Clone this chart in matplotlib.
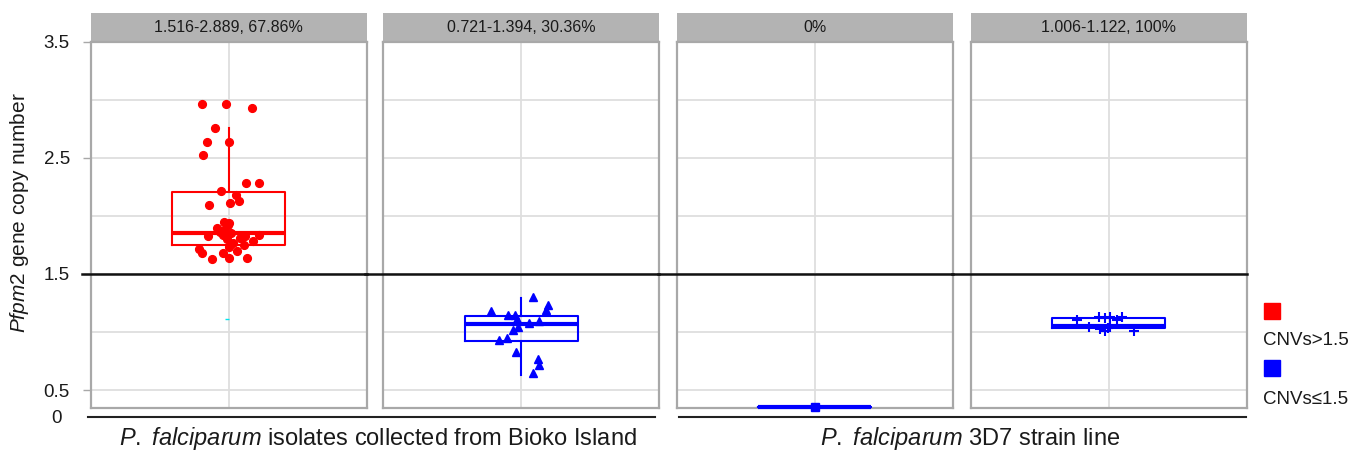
import matplotlib
matplotlib.use("Agg")
import matplotlib.pyplot as plt
from matplotlib.lines import Line2D
from matplotlib.patches import Rectangle

plt.rcParams["font.family"] = ["Liberation Sans", "DejaVu Sans"]
plt.rcParams["mathtext.fontset"] = "custom"
plt.rcParams["mathtext.rm"] = "Liberation Sans"
plt.rcParams["mathtext.it"] = "Liberation Sans:italic"

# ---------------------------------------------------------------------------
# Data
# ---------------------------------------------------------------------------
STRIP_LABELS = ["1.516-2.889, 67.86%", "0.721-1.394, 30.36%", "0%", "1.006-1.122, 100%"]
GROUP_LABELS = [r"$\it{P.}$ $\it{falciparum}$ isolates collected from Bioko Island",
                r"$\it{P.}$ $\it{falciparum}$ 3D7 strain line"]
LEGEND_LABELS = ["CNVs>1.5", "CNVs\u22641.5"]
THRESHOLD = 1.5
Y_TICKS = [0.5, 1.5, 2.5, 3.5]
Y_GRID = [0.5, 1.0, 1.5, 2.0, 2.5, 3.0]
Y_LIM = (0.345, 3.5)

# box statistics per panel
BOX_LO = [1.752, 0.628, 0.357, 1.006]
BOX_Q1 = [1.752, 0.926, 0.357, 1.032]
BOX_MED = [1.855, 1.069, 0.357, 1.050]
BOX_Q3 = [2.206, 1.135, 0.357, 1.119]
BOX_HI = [2.758, 1.289, 0.357, 1.122]

# jittered points per panel (x offset, value)
P1_X = [-0.115, -0.012, 0.100, -0.060, -0.096, 0.001, -0.110, 0.077, 0.133, -0.032,
        0.033, -0.086, 0.006, 0.046, -0.019, 0.001, -0.050, -0.019, -0.090, 0.071,
        0.133, -0.023, -0.009, 0.107, 0.065, -0.128, -0.117, 0.000, -0.023, 0.037,
        -0.071, 0.000, 0.078, 0.010, -0.005, 0.020, -0.040, 0.050]
P1_Y = [2.965, 2.962, 2.925, 2.758, 2.637, 2.634, 2.522, 2.284, 2.284, 2.212,
        2.183, 2.097, 2.114, 2.128, 1.947, 1.938, 1.893, 1.875, 1.824, 1.824,
        1.835, 1.832, 1.801, 1.780, 1.746, 1.717, 1.680, 1.731, 1.680, 1.694,
        1.628, 1.634, 1.637, 1.850, 1.920, 1.770, 1.860, 1.810]

P2_X = [0.052, 0.115, 0.106, -0.132, -0.057, -0.027, -0.020, 0.076, 0.033, -0.016,
        -0.037, -0.064, -0.098, -0.024, 0.071, 0.078, 0.052]
P2_Y = [1.300, 1.234, 1.185, 1.179, 1.142, 1.142, 1.113, 1.093, 1.079, 1.041,
        1.013, 0.946, 0.932, 0.826, 0.768, 0.716, 0.644]

P3_X = [0.0]
P3_Y = [0.357]

P4_X = [-0.137, -0.043, -0.014, 0.007, 0.058, 0.036, -0.087, -0.036, -0.014, 0.007,
        0.109, -0.005]
P4_Y = [1.107, 1.127, 1.122, 1.127, 1.132, 1.107, 1.041, 1.027, 1.006, 1.041,
        1.012, 1.030]

MISSING_X = [-0.009]
MISSING_Y = [1.112]

RED = "#ff0000"
BLUE = "#0000ff"
PANEL_COLORS = [RED, BLUE, BLUE, BLUE]
PANEL_MARKERS = ["o", "^", "s", "+"]
PANEL_POINTS = [(P1_X, P1_Y), (P2_X, P2_Y), (P3_X, P3_Y), (P4_X, P4_Y)]

# ---------------------------------------------------------------------------
# Figure
# ---------------------------------------------------------------------------
W, H = 1349, 453
fig = plt.figure(figsize=(W / 100, H / 100), dpi=100)

panel_left = [90.7, 383.3, 676.7, 970.7]
panel_w = 276
panel_top, panel_bot = 41.7, 408

axes = []
for i in range(4):
    ax = fig.add_axes([panel_left[i] / W, 1 - panel_bot / H,
                       panel_w / W, (panel_bot - panel_top) / H])
    axes.append(ax)
    for y in Y_GRID:
        ax.axhline(y, color="#dedede", lw=1.3, zorder=0)
    ax.axvline(0, color="#dedede", lw=1.3, zorder=0)
    for sp in ax.spines.values():
        sp.set_color("#a8a8a8")
        sp.set_linewidth(1.6)

    c = PANEL_COLORS[i]
    stats = [dict(whislo=BOX_LO[i], q1=BOX_Q1[i], med=BOX_MED[i],
                  q3=BOX_Q3[i], whishi=BOX_HI[i])]
    parts = ax.bxp(stats, positions=[0], widths=0.49, showfliers=False,
                   showcaps=False, manage_ticks=False,
                   boxprops=dict(color=c, lw=1.5), medianprops=dict(color=c, lw=3),
                   whiskerprops=dict(color=c, lw=1.5))
    for key in ("boxes", "medians", "whiskers"):
        for art in parts[key]:
            art.set_clip_on(False)
            art.set_zorder(4)

    px, py = PANEL_POINTS[i]
    m = PANEL_MARKERS[i]
    if m == "+":
        ax.plot(px, py, ls="none", marker="+", ms=7, mew=1.5, color=c, zorder=5)
    else:
        ms = {"o": 5.6, "^": 5.6, "s": 5.5}[m]
        ax.plot(px, py, ls="none", marker=m, ms=ms, color=c, mec=c, zorder=5,
                clip_on=False)

    ax.set_xlim(-0.6, 0.6)
    ax.set_ylim(*Y_LIM)
    ax.set_xticks([])
    if i == 0:
        ax.set_yticks(Y_TICKS)
        ax.set_yticklabels([f"{t:g}" for t in Y_TICKS])
        ax.tick_params(axis="y", length=5.5, width=1, color="#a8a8a8",
                       labelsize=13.5, pad=9.5, labelcolor="#1a1a1a")
        ax.text(-0.1257, -0.03, "0", transform=ax.transAxes, ha="center",
                va="center", fontsize=13.5, color="#1a1a1a")
    else:
        ax.set_yticks([])

    # threshold line spanning the gap to the previous panel
    xmin = -0.033 if i == 0 else -0.066
    ax.axhline(THRESHOLD, xmin=xmin, xmax=1.0, color="#111111", lw=1.8,
               clip_on=False, zorder=6)

    # facet strip
    strip_h = (panel_top - 13) / (panel_bot - panel_top)
    ax.add_patch(Rectangle((0, 1.0), 1, strip_h, transform=ax.transAxes,
                           facecolor="#b3b3b3", edgecolor="none", clip_on=False))
    ax.text(0.5, 1.0 + strip_h / 2, STRIP_LABELS[i], transform=ax.transAxes,
            ha="center", va="center", fontsize=11.5, color="#1a1a1a")

axes[0].plot(MISSING_X, MISSING_Y, ls="none", marker="_", ms=3, mew=1,
             color="#00e5ee", zorder=3)

# y label
fig.text(19.5 / W, 1 - 212.5 / H, r"$\it{Pfpm2}$ gene copy number", rotation=90,
         ha="center", va="center", fontsize=15, color="#1a1a1a")

# group separators and labels
for (x0, x1), cx, lab in zip([(88, 655), (679, 1246)], [378, 970], GROUP_LABELS):
    fig.add_artist(Line2D([x0 / W, x1 / W], [1 - 416.7 / H] * 2, color="#222222", lw=1.5))
    fig.text(cx / W, 1 - 439 / H, lab, ha="center", va="center", fontsize=17,
             color="#1a1a1a")

# legend
for j, (col, lab) in enumerate(zip([RED, BLUE], LEGEND_LABELS)):
    sq_y = [311, 368][j]
    tx_y = [340.7, 400][j]
    fig.add_artist(Line2D([1272 / W], [1 - sq_y / H], marker="s", ms=11.5,
                          color=col, ls="none"))
    fig.text(1263 / W, 1 - tx_y / H, lab, ha="left", va="center", fontsize=13.5,
             color="#1a1a1a")

fig.savefig("out.png", dpi=100)
